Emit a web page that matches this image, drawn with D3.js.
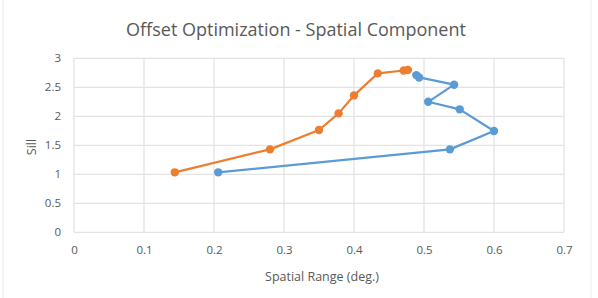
<!DOCTYPE html>
<html><head><meta charset="utf-8">
<script src="https://cdn.jsdelivr.net/npm/d3@7"></script>
<style>body{margin:0;background:#fff}svg{display:block}</style>
</head><body>
<svg id="c" width="598" height="298"></svg>
<script>
const orangeX = [0.144, 0.280, 0.350, 0.378, 0.400, 0.434, 0.471, 0.477];
const orangeY = [1.034, 1.430, 1.764, 2.050, 2.360, 2.740, 2.790, 2.800];
const blueX = [0.206, 0.537, 0.600, 0.551, 0.506, 0.543, 0.493, 0.489];
const blueY = [1.034, 1.430, 1.747, 2.120, 2.250, 2.545, 2.670, 2.710];
const xTicks = [0, 0.1, 0.2, 0.3, 0.4, 0.5, 0.6, 0.7];
const yTicks = [0, 0.5, 1, 1.5, 2, 2.5, 3];

const svg = d3.select("#c");
const font = "'Open Sans', sans-serif";
const txt = "#595959";
const grid = "#e3e3e3";
const L = 74, R = 564, T = 58.3, B = 232.3;
const x = d3.scaleLinear().domain([0, 0.7]).range([L, R]);
const y = d3.scaleLinear().domain([0, 3]).range([B, T]);

// outer chart border
svg.append("line").attr("x1",3).attr("x2",3).attr("y1",0).attr("y2",298).attr("stroke","#ececec");
svg.append("line").attr("x1",591).attr("x2",591).attr("y1",0).attr("y2",298).attr("stroke","#ececec");

// grid
svg.append("g").selectAll("line").data(yTicks).join("line")
  .attr("x1", L).attr("x2", R).attr("y1", d => y(d)).attr("y2", d => y(d))
  .attr("stroke", grid).attr("stroke-width", 1.3);
svg.append("g").selectAll("line").data(xTicks).join("line")
  .attr("y1", T).attr("y2", B).attr("x1", d => x(d)).attr("x2", d => x(d))
  .attr("stroke", grid).attr("stroke-width", 1.3);

// axes labels via d3 axes
const xa = svg.append("g").attr("transform", `translate(0,${B})`)
  .call(d3.axisBottom(x).tickValues(xTicks).tickSize(0).tickPadding(14).tickFormat(d => d3.format("")(d)));
xa.select(".domain").remove();
xa.selectAll("text").attr("fill", txt).style("font-family", font).style("font-size", "11.5px");

const ya = svg.append("g").attr("transform", `translate(${L},0)`)
  .call(d3.axisLeft(y).tickValues(yTicks).tickSize(0).tickPadding(13).tickFormat(d => d3.format("")(d)));
ya.select(".domain").remove();
ya.selectAll("text").attr("fill", txt).style("font-family", font).style("font-size", "11.5px");

// title
svg.append("text").attr("x", 296).attr("y", 36).attr("text-anchor", "middle")
  .attr("fill", txt).style("font-family", font).style("font-size", "18px")
  .text("Offset Optimization - Spatial Component");
svg.append("text").attr("x", 322).attr("y", 281).attr("text-anchor", "middle")
  .attr("fill", txt).style("font-family", font).style("font-size", "12.5px")
  .text("Spatial Range (deg.)");
svg.append("text").attr("transform", "translate(36,147) rotate(-90)").attr("text-anchor", "middle")
  .attr("fill", txt).style("font-family", font).style("font-size", "12.5px")
  .text("Sill");

const series = [
  {xs: blueX, ys: blueY, color: "#5B9BD5"},
  {xs: orangeX, ys: orangeY, color: "#ED7D31"}
];
const line = d3.line().x(d => x(d[0])).y(d => y(d[1]));
series.forEach(s => {
  const pts = s.xs.map((v, i) => [v, s.ys[i]]);
  svg.append("path").attr("d", line(pts)).attr("fill", "none")
    .attr("stroke", s.color).attr("stroke-width", 2.2).attr("stroke-linejoin", "round");
  svg.append("g").selectAll("circle").data(pts).join("circle")
    .attr("cx", d => x(d[0])).attr("cy", d => y(d[1])).attr("r", 4.2).attr("fill", s.color);
});
</script>
</body></html>
